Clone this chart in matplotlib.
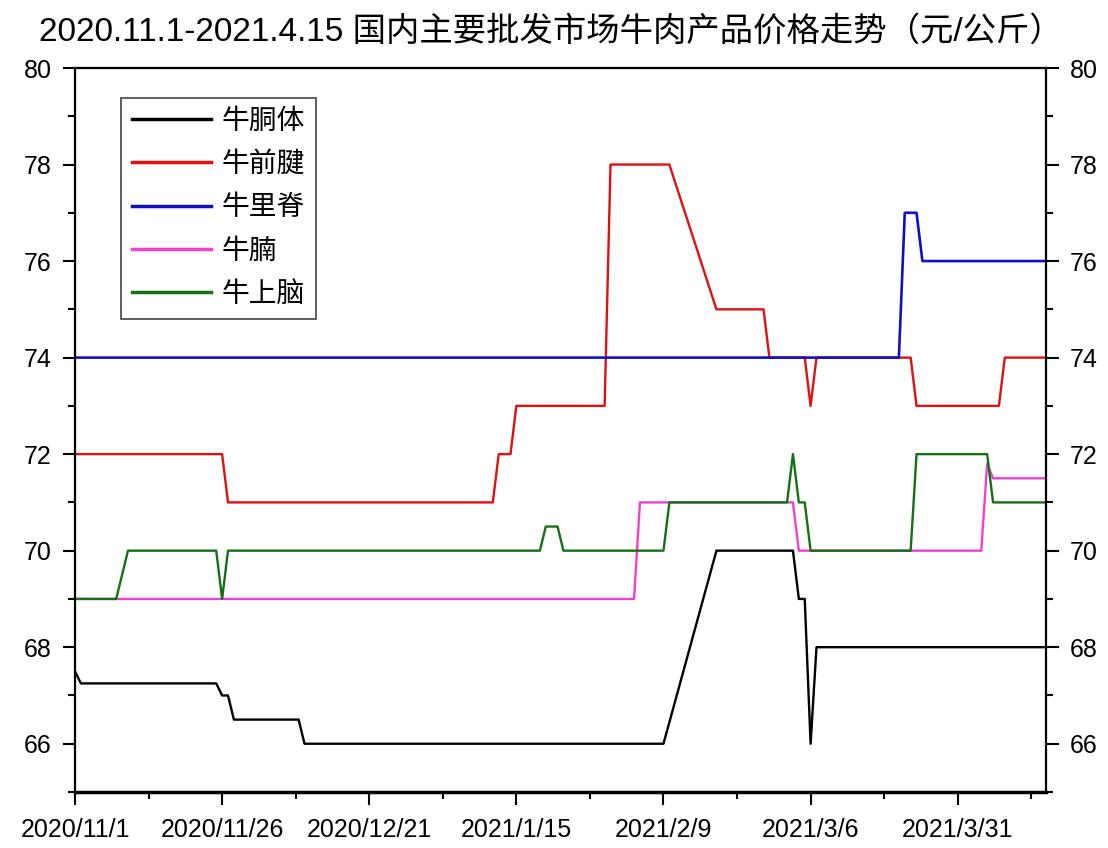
import matplotlib.pyplot as plt
from matplotlib.ticker import MultipleLocator

# x values are days counted from 2020/11/1
days_carcass = [0, 1, 24, 25, 26, 27, 38, 39, 100, 109, 122, 123, 124, 125, 126, 165]
price_carcass = [67.5, 67.25, 67.25, 67.0, 67.0, 66.5, 66.5, 66.0, 66.0, 70.0, 70.0, 69.0, 69.0, 66.0, 68.0, 68.0]

days_shank = [0, 25, 26, 71, 72, 74, 75, 90, 91, 101, 109, 117, 118, 124, 125, 126, 142, 143, 157, 158, 165]
price_shank = [72, 72, 71, 71, 72, 72, 73, 73, 78, 78, 75, 75, 74, 74, 73, 74, 74, 73, 73, 74, 74]

days_loin = [0, 140, 141, 143, 144, 165]
price_loin = [74, 74, 77, 77, 76, 76]

days_brisket = [0, 95, 96, 122, 123, 154, 155, 156, 165]
price_brisket = [69, 69, 71, 71, 70, 70, 71.8, 71.5, 71.5]

days_chuck = [0, 7, 9, 24, 25, 26, 79, 80, 82, 83, 100, 101, 121, 122, 123, 124, 125, 142, 143, 155, 156, 165]
price_chuck = [69, 69, 70, 70, 69, 70, 70, 70.5, 70.5, 70, 70, 71, 71, 72, 71, 71, 70, 70, 72, 72, 71, 71]

tick_days = [0, 25, 50, 75, 100, 125, 150]
tick_labels = ['2020/11/1', '2020/11/26', '2020/12/21', '2021/1/15', '2021/2/9', '2021/3/6', '2021/3/31']

plt.rcParams['font.family'] = ['Liberation Sans', 'Noto Sans CJK SC']

fig = plt.figure(figsize=(11.08, 8.48), dpi=100)
ax = fig.add_axes([75 / 1108, 1 - 792 / 848, 971 / 1108, 724 / 848])

ax.plot(days_carcass, price_carcass, color='black', lw=1.7, label='牛胴体')
ax.plot(days_shank, price_shank, color='#e01010', lw=1.7, label='牛前腱')
ax.plot(days_loin, price_loin, color='#1010c0', lw=1.9, label='牛里脊')
ax.plot(days_brisket, price_brisket, color='#f040d0', lw=1.7, label='牛腩')
ax.plot(days_chuck, price_chuck, color='#157015', lw=1.7, label='牛上脑')

ax.set_xlim(0, 165)
ax.set_ylim(65, 80)
ax.set_xticks(tick_days)
ax.set_xticklabels(tick_labels)
ax.xaxis.set_minor_locator(MultipleLocator(12.5))
ax.yaxis.set_minor_locator(MultipleLocator(1))
ax.set_yticks([66, 68, 70, 72, 74, 76, 78, 80])

ax.tick_params(which='both', direction='out', width=1.5, labelsize=18, right=True, labelright=True)
ax.tick_params(which='major', length=9)
ax.tick_params(which='minor', length=5)
ax.tick_params(axis='y', pad=8)
ax.tick_params(axis='x', pad=10)
for s in ax.spines.values():
    s.set_linewidth(1.6)
ax.spines['bottom'].set_linewidth(2.5)

leg = ax.legend(loc='upper left', bbox_to_anchor=(0.047, 0.959), borderaxespad=0,
                fontsize=20, handlelength=2.85, handletextpad=0.4, labelspacing=0.62,
                fancybox=False, framealpha=1, edgecolor='#444444', borderpad=0.4)
leg.get_frame().set_linewidth(1.2)
for line in leg.get_lines():
    line.set_linewidth(2.5)

fig.text(0.497, 0.963, '2020.11.1-2021.4.15 国内主要批发市场牛肉产品价格走势（元/公斤）',
         ha='center', va='center', fontsize=24)

fig.savefig('out.png', dpi=100)
